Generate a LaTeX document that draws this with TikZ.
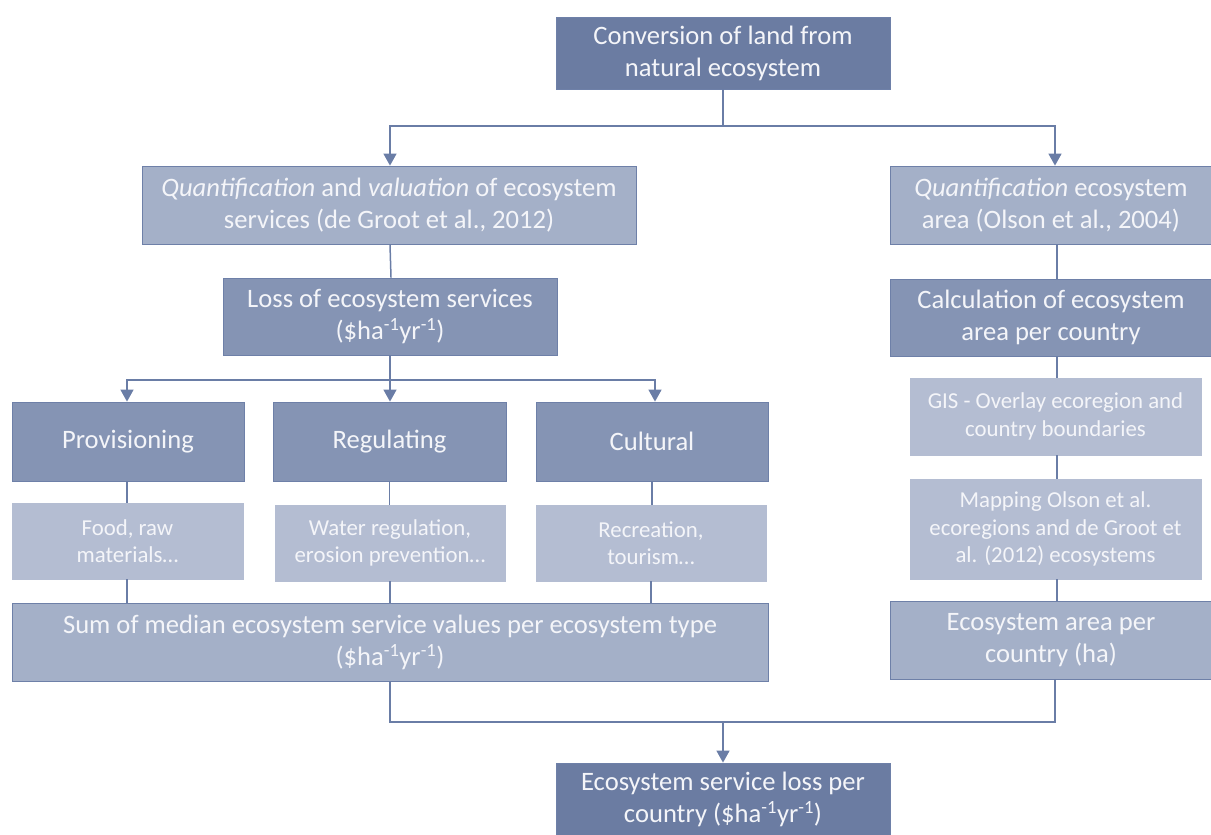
\documentclass[tikz,border=0pt]{standalone}
\usepackage{fontspec}
\setmainfont{Carlito}
\usetikzlibrary{arrows.meta}
\definecolor{cdark}{HTML}{6B7CA2}
\definecolor{cmed}{HTML}{8594B4}
\definecolor{clight}{HTML}{A4B0C8}
\definecolor{clightest}{HTML}{B4BDD2}
\definecolor{cborder}{HTML}{6E80A8}
\definecolor{cline}{HTML}{6A7DA6}
\definecolor{ctext}{HTML}{F4F5F9}
\tikzset{
  box/.style={rectangle, draw=cborder, line width=0.8pt, text=ctext, align=center, inner sep=0pt,
    font=\fontsize{26.6}{32}\selectfont},
  darkbox/.style={box, fill=cdark},
  medbox/.style={box, fill=cmed},
  lightbox/.style={box, fill=clight},
  palebox/.style={box, fill=clightest, draw=clightest, font=\fontsize{22.8}{27.5}\selectfont},
  conn/.style={draw=cline, line width=1.5pt},
  arr/.style={conn, -{Triangle[width=13pt,length=12pt]}}
}
\begin{document}
\begin{tikzpicture}[x=1pt,y=-1pt]
\useasboundingbox (0,0) rectangle (1211,835);
% top
\node[darkbox, minimum width=334pt, minimum height=72pt] (top) at (723,53) {Conversion of land from\\natural ecosystem};
% second row
\node[lightbox, minimum width=494pt, minimum height=78pt] (q1) at (389,205) {\textit{Quantification} and \textit{valuation} of ecosystem\\services (de Groot et al., 2012)};
\node[lightbox, minimum width=322pt, minimum height=78pt] (q2) at (1051,205) {\textit{Quantification} ecosystem\\area (Olson et al., 2004)};
% third row
\node[medbox, minimum width=334pt, minimum height=77pt] (loss) at (390,316.5) {Loss of ecosystem services\\(\$ha\textsuperscript{-1}yr\textsuperscript{-1})};
\node[medbox, minimum width=322pt, minimum height=77pt] (calc) at (1051,317.5) {Calculation of ecosystem\\area per country};
% categories
\node[medbox, minimum width=232pt, minimum height=79pt] (prov) at (128,441.5) {Provisioning};
\node[medbox, minimum width=233pt, minimum height=79pt] (reg) at (389.5,441.5) {Regulating};
\node[medbox, minimum width=232pt, minimum height=79pt] (cult) at (652,441.5) {Cultural};
% examples
\node[palebox, minimum width=231pt, minimum height=76pt] (food) at (127.5,541) {Food, raw\\materials…};
\node[palebox, minimum width=230pt, minimum height=76pt] (water) at (390,543) {Water regulation,\\erosion prevention…};
\node[palebox, minimum width=230pt, minimum height=76pt] (rec) at (651,543) {Recreation,\\tourism…};
% right column
\node[palebox, minimum width=291pt, minimum height=77pt] (gis) at (1055.5,416.5) {GIS - Overlay ecoregion and\\country boundaries};
\node[palebox, minimum width=291pt, minimum height=100pt] (map) at (1055.5,529) {Mapping Olson et al.\\ecoregions and de Groot et\\al. (2012) ecosystems};
% sums
\node[lightbox, minimum width=756pt, minimum height=78pt] (sum) at (390,642) {Sum of median ecosystem service values per ecosystem type\\(\$ha\textsuperscript{-1}yr\textsuperscript{-1})};
\node[lightbox, minimum width=322pt, minimum height=78pt] (area) at (1051,640) {Ecosystem area per\\country (ha)};
% bottom
\node[darkbox, minimum width=334pt, minimum height=72pt] (bot) at (723,799) {Ecosystem service loss per\\country (\$ha\textsuperscript{-1}yr\textsuperscript{-1})};
% connectors
\coordinate (j1) at (723,126);
\coordinate (j2) at (390,380);
\coordinate (j3) at (723,722);
\draw[conn] (top.south) -- (j1);
\draw[arr] (j1) -| ([xshift=1pt]q1.north);
\draw[arr] (j1) -| ([xshift=4pt]q2.north);
\draw[conn] ([xshift=1pt]q1.south) -- ([xshift=1pt]loss.north);
\draw[conn] (loss.south) -- (j2);
\draw[arr] (j2) -| ([xshift=-1pt]prov.north);
\draw[arr] (j2) -- (reg.north -| j2);
\draw[arr] (j2) -| ([xshift=3pt]cult.north);
\draw[conn] ([xshift=-1pt]prov.south) -- ([xshift=-1pt]food.north -| prov.south);
\draw[conn] (reg.south) -- (water.north -| reg.south);
\draw[conn] (cult.south) -- (rec.north -| cult.south);
\draw[conn] ([xshift=-1pt]food.south -| prov.south) -- ([xshift=-1pt]sum.north -| prov.south);
\draw[conn] (water.south) -- (sum.north -| water.south);
\draw[conn] (rec.south) -- (sum.north -| rec.south);
\draw[conn] ([xshift=6pt]q2.south) -- ([xshift=6pt]calc.north);
\draw[conn] ([xshift=6pt]calc.south) -- ([xshift=1.5pt]gis.north);
\draw[conn] ([xshift=1.5pt]gis.south) -- ([xshift=1.5pt]map.north);
\draw[conn] ([xshift=1.5pt]map.south) -- ([xshift=6pt]area.north);
\draw[conn] (sum.south) |- (j3) -| ([xshift=4pt]area.south);
\draw[arr] (j3) -- (bot.north);
\end{tikzpicture}
\end{document}
